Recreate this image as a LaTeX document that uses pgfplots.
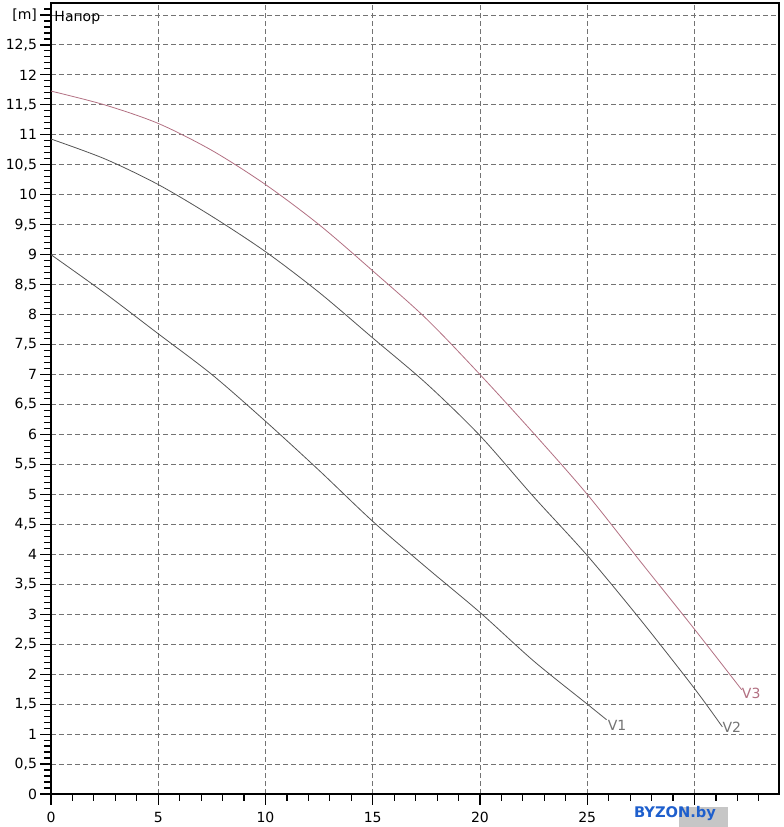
\documentclass[border=0pt]{standalone}
\usepackage{fontspec}
\setmainfont{DejaVu Sans}
\usepackage{pgfplots}
\pgfplotsset{compat=1.18}
\definecolor{gridc}{RGB}{115,115,115}
\definecolor{cgray}{RGB}{85,85,85}
\definecolor{cpink}{RGB}{178,112,130}
\definecolor{wblue}{RGB}{30,95,205}
\begin{document}
\begin{tikzpicture}
\begin{axis}[name=ax, scale only axis, width=546pt, height=593.25pt,
  xmin=0, xmax=33.94, ymin=0, ymax=13.2,
  axis line style={black, line width=0.8pt},
  xtick={0,5,10,15,20,25,30}, xticklabels={0,5,10,15,20,25,},
  minor xtick={1,2,3,4,6,7,8,9,11,12,13,14,16,17,18,19,21,22,23,24,26,27,28,29,31,32,33},
  ytick={0,0.5,1,1.5,2,2.5,3,3.5,4,4.5,5,5.5,6,6.5,7,7.5,8,8.5,9,9.5,10,10.5,11,11.5,12,12.5,13},
  yticklabels={0,{0,5},1,{1,5},2,{2,5},3,{3,5},4,{4,5},5,{5,5},6,{6,5},7,{7,5},8,{8,5},9,{9,5},10,{10,5},11,{11,5},12,{12,5},{[m]}},
  xtick align=outside, ytick align=outside, xtick pos=bottom, ytick pos=left,
  major tick length=8pt, minor tick length=5pt,
  tick style={black, line width=0.85pt},
  ytick style={draw=none},
  grid=major,
  major grid style={gridc, line width=0.7pt, dash pattern=on 3.5pt off 2.5pt},
  minor grid style={draw=none},
  ticklabel style={font=\fontsize{10.5}{12}\selectfont},
  yticklabel style={xshift=1pt},
  xticklabel style={yshift=-2pt},
  /pgf/number format/assume math mode=true,
  clip=false]
\addplot[cgray, line width=0.6pt, smooth] coordinates {
(0,9.00) (2.5,8.36) (5,7.68) (7.5,7.00) (10,6.22) (12.5,5.40) (15,4.55) (17.5,3.78) (20,3.03) (22.5,2.22) (25,1.50) (25.9,1.24)};
\addplot[cgray, line width=0.6pt, smooth] coordinates {
(0,10.93) (2.5,10.60) (5,10.17) (7.5,9.64) (10,9.05) (12.5,8.37) (15,7.61) (17.5,6.85) (20,5.98) (22.5,4.96) (25,3.98) (27.5,2.90) (30,1.76) (31.3,1.12)};
\addplot[cpink, line width=0.6pt, smooth] coordinates {
(0,11.73) (2.5,11.50) (5,11.19) (7.5,10.74) (10,10.17) (12.5,9.50) (15,8.73) (17.5,7.93) (20,7.00) (22.5,6.02) (25,5.00) (27.5,3.87) (30,2.75) (32.2,1.74)};
\pgfplotsinvokeforeach{0,0.5,1,1.5,2,2.5,3,3.5,4,4.5,5,5.5,6,6.5,7,7.5,8,8.5,9,9.5,10,10.5,11,11.5,12,12.5,13}{
  \draw[black, line width=0.85pt] (axis cs:0,#1) -- ++(-8pt,0pt);}
\pgfplotsinvokeforeach{0.1,0.2,0.3,0.4,0.6,0.7,0.8,0.9,1.1,1.2,1.3,1.4,1.6,1.7,1.8,1.9,2.1,2.2,2.3,2.4,2.6,2.7,2.8,2.9,3.1,3.2,3.3,3.4,3.6,3.7,3.8,3.9,4.1,4.2,4.3,4.4,4.6,4.7,4.8,4.9,5.1,5.2,5.3,5.4,5.6,5.7,5.8,5.9,6.1,6.2,6.3,6.4,6.6,6.7,6.8,6.9,7.1,7.2,7.3,7.4,7.6,7.7,7.8,7.9,8.1,8.2,8.3,8.4,8.6,8.7,8.8,8.9,9.1,9.2,9.3,9.4,9.6,9.7,9.8,9.9,10.1,10.2,10.3,10.4,10.6,10.7,10.8,10.9,11.1,11.2,11.3,11.4,11.6,11.7,11.8,11.9,12.1,12.2,12.3,12.4,12.6,12.7,12.8,12.9,13.1}{
  \draw[black, line width=0.85pt] (axis cs:0,#1) -- ++(-5pt,0pt);}
\node[anchor=west, inner sep=0pt, text=gray!90!black, font=\fontsize{10.5}{12}\selectfont] at (axis cs:25.95,1.15) {V1};
\node[anchor=west, inner sep=0pt, text=gray!90!black, font=\fontsize{10.5}{12}\selectfont] at (axis cs:31.3,1.12) {V2};
\node[anchor=west, inner sep=0pt, text=cpink, font=\fontsize{10.5}{12}\selectfont] at (axis cs:32.2,1.68) {V3};
\node[anchor=west, inner sep=0pt, font=\fontsize{10.5}{12}\selectfont] at (axis cs:0.15,12.95) {Напор};
\end{axis}
\fill[gray!45] ([xshift=471pt,yshift=-25pt]ax.south west) rectangle ([xshift=508pt,yshift=-10pt]ax.south west);
\node[text=wblue, font=\bfseries\fontsize{11}{13}\selectfont, inner sep=0pt] at ([xshift=468pt,yshift=-15pt]ax.south west) {BYZON.by};
\pgfresetboundingbox
\path[use as bounding box] ([xshift=-38.25pt,yshift=-24.75pt]ax.south west) rectangle ([xshift=3.75pt,yshift=2.25pt]ax.north east);
\end{tikzpicture}
\end{document}
